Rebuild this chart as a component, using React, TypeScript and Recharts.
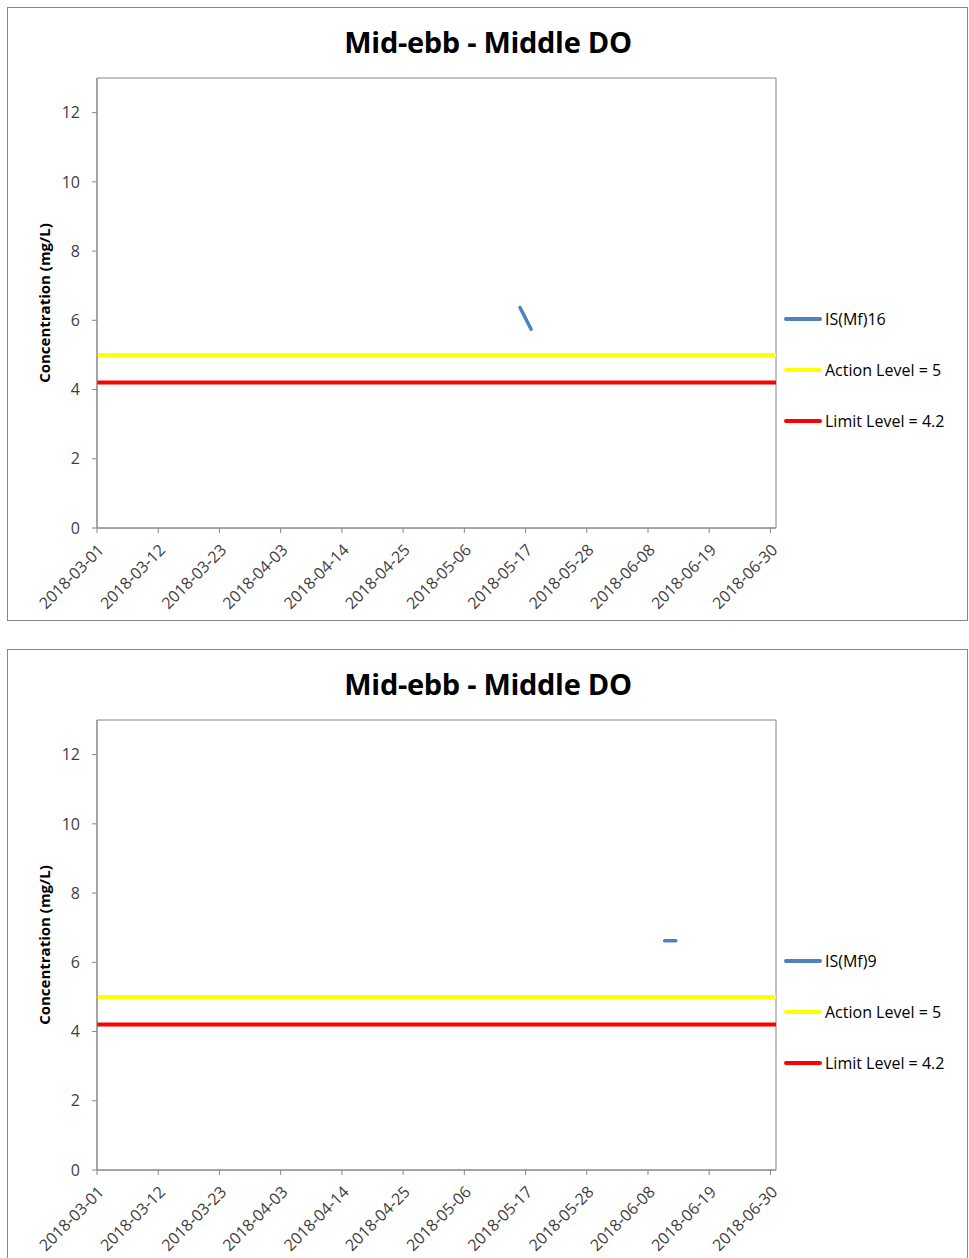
import React from 'react';
import {
  LineChart,
  Line,
  XAxis,
  YAxis,
  ReferenceArea,
} from 'recharts';

// dates on the x axis (Excel date axis, every 11 days)
const TICK_DATES = [
  '2018-03-01', '2018-03-12', '2018-03-23', '2018-04-03', '2018-04-14', '2018-04-25',
  '2018-05-06', '2018-05-17', '2018-05-28', '2018-06-08', '2018-06-19', '2018-06-30',
];
const X_RANGE = ['2018-03-01', '2018-07-01'];
const Y_TICKS = [0, 2, 4, 6, 8, 10, 12];
const Y_MAX = 13;

const ACTION_LEVEL = 5;
const LIMIT_LEVEL = 4.2;

// station readings
const MF16_DATES = ['2018-05-16', '2018-05-18'];
const MF16_VALUES = [6.37, 5.74];
const MF9_DATES = ['2018-06-11', '2018-06-13'];
const MF9_VALUES = [6.62, 6.62];

const TITLE = 'Mid-ebb - Middle DO';
const FONT = '"Open Sans", "Liberation Sans", sans-serif';
const GREY = '#868686';
const BLUE = '#4F81BD';
const YELLOW = '#FFFF00';
const RED = '#FF0000';

const toT = (d: string) => Date.parse(d + 'T00:00:00Z');
const fmt = (t: number) => new Date(t).toISOString().slice(0, 10);

const DateTick = (props: any) => {
  const { x, y, payload } = props;
  return (
    <g transform={`translate(${x + 4},${y + 12})`}>
      <text
        x={0}
        y={0}
        dy="0.35em"
        textAnchor="end"
        transform="rotate(-45)"
        fontSize={16}
        fontFamily={FONT}
        fill="#404040"
      >
        {fmt(payload.value)}
      </text>
    </g>
  );
};

interface DOChartProps {
  top: number;
  station: string;
  dates: string[];
  values: number[];
}

const DOChart: React.FC<DOChartProps> = ({ top, station, dates, values }) => {
  const t0 = toT(X_RANGE[0]);
  const t1 = toT(X_RANGE[1]);
  const series = dates.map((d, i) => ({ t: toT(d), v: values[i] }));
  const action = X_RANGE.map((d) => ({ t: toT(d), v: ACTION_LEVEL }));
  const limit = X_RANGE.map((d) => ({ t: toT(d), v: LIMIT_LEVEL }));

  const legendItems = [
    { name: station, color: BLUE },
    { name: `Action Level = ${ACTION_LEVEL}`, color: YELLOW },
    { name: `Limit Level = ${LIMIT_LEVEL}`, color: RED },
  ];

  return (
    <div style={{ position: 'absolute', left: 0, top, width: 969, height: 620 }}>
      <div
        style={{
          position: 'absolute',
          left: 7,
          top: 7,
          width: 959,
          height: 612,
          border: `1px solid ${GREY}`,
          background: '#fff',
        }}
      />
      <div
        style={{
          position: 'absolute',
          left: 0,
          top: 22,
          width: 976,
          textAlign: 'center',
          fontFamily: FONT,
          fontWeight: 700,
          fontSize: 29,
          letterSpacing: -0.3,
          color: '#000',
        }}
      >
        {TITLE}
      </div>
      <div
        style={{
          position: 'absolute',
          left: 44,
          top: 303,
          transform: 'translate(-50%, -50%) rotate(-90deg)',
          whiteSpace: 'nowrap',
          fontFamily: FONT,
          fontWeight: 700,
          fontSize: 15,
          color: '#000',
        }}
      >
        Concentration (mg/L)
      </div>
      <div style={{ position: 'absolute', left: 0, top: 0 }}>
        <LineChart width={969} height={620} margin={{ top: 78, right: 193, bottom: 12, left: 37 }}>
          <ReferenceArea
            x1={t0}
            x2={t1}
            y1={0}
            y2={Y_MAX}
            fill="none"
            stroke={GREY}
            strokeWidth={1}
            ifOverflow="visible"
          />
          <XAxis
            dataKey="t"
            type="number"
            domain={[t0, t1]}
            ticks={TICK_DATES.map(toT)}
            allowDuplicatedCategory={false}
            stroke={GREY}
            tickSize={5}
            height={80}
            interval={0}
            tick={<DateTick />}
          />
          <YAxis
            type="number"
            domain={[0, Y_MAX]}
            ticks={Y_TICKS}
            width={60}
            stroke={GREY}
            tickSize={5}
            tickMargin={12}
            interval={0}
            tick={{ fontSize: 16, fontFamily: FONT, fill: '#404040' }}
          />
          <Line
            data={action}
            dataKey="v"
            name={legendItems[1].name}
            stroke={YELLOW}
            strokeWidth={4}
            dot={false}
            isAnimationActive={false}
          />
          <Line
            data={limit}
            dataKey="v"
            name={legendItems[2].name}
            stroke={RED}
            strokeWidth={4}
            dot={false}
            isAnimationActive={false}
          />
          <Line
            data={series}
            dataKey="v"
            name={station}
            stroke={BLUE}
            strokeWidth={3.5}
            strokeLinecap="round"
            dot={false}
            isAnimationActive={false}
          />
        </LineChart>
      </div>
      <div
        style={{
          position: 'absolute',
          left: 784,
          top: 293,
          fontFamily: FONT,
          fontSize: 16,
          color: '#000',
        }}
      >
        {legendItems.map((it) => (
          <div key={it.name} style={{ height: 51, display: 'flex', alignItems: 'center' }}>
            <span
              style={{
                display: 'inline-block',
                width: 38,
                height: 4,
                borderRadius: 2,
                background: it.color,
                marginRight: 3,
              }}
            />
            <span>{it.name}</span>
          </div>
        ))}
      </div>
    </div>
  );
};

export default function App() {
  return (
    <div style={{ position: 'absolute', left: 0, top: 0, width: 969, height: 1258, overflow: 'hidden', background: '#fff' }}>
      <DOChart top={0} station="IS(Mf)16" dates={MF16_DATES} values={MF16_VALUES} />
      <DOChart top={642} station="IS(Mf)9" dates={MF9_DATES} values={MF9_VALUES} />
    </div>
  );
}
